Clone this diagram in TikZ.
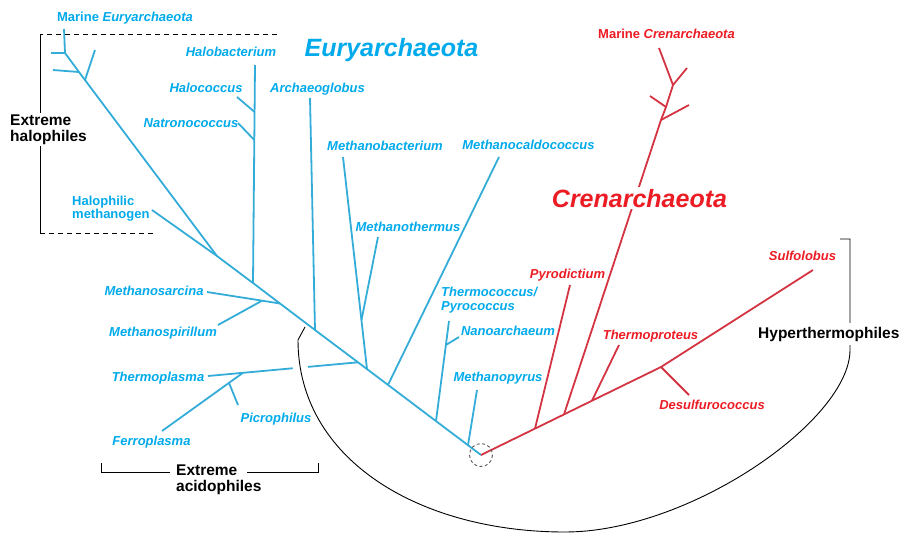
\documentclass[tikz,border=0pt]{standalone}
\usepackage{fontspec}
\setmainfont{Liberation Sans}
\usetikzlibrary{arrows}
\definecolor{euryblue}{RGB}{0,170,235}
\definecolor{eurystroke}{RGB}{52,172,216}
\definecolor{crenred}{RGB}{236,28,36}
\definecolor{crenstroke}{RGB}{212,52,66}
\tikzstyle{eurylabel} = [text=euryblue, font=\fontsize{13}{13.5}\selectfont\bfseries\itshape, inner sep=0pt, anchor=base]
\tikzstyle{crenlabel} = [text=crenred, font=\fontsize{13}{13.5}\selectfont\bfseries\itshape, inner sep=0pt, anchor=base]
\tikzstyle{cladetitle} = [font=\fontsize{25}{25}\selectfont\bfseries\itshape, fill=white, inner sep=2pt, anchor=base]
\tikzstyle{grouplabel} = [font=\fontsize{15.5}{16}\selectfont\bfseries, align=left, inner sep=2pt, anchor=west]
\tikzstyle{eurybranch} = [draw=eurystroke, line width=1.8pt]
\tikzstyle{crenbranch} = [draw=crenstroke, line width=1.8pt]
\tikzstyle{bracket} = [draw=black, line width=0.9pt]
\tikzstyle{halfbracket} = [draw=black, line width=0.9pt, dash pattern=on 5pt off 4pt]

\begin{document}
\begin{tikzpicture}[x=1pt, y=-1pt]
        \useasboundingbox (0,0) rectangle (906,533);

        \coordinate (root) at (481,455);
        \coordinate (eTop) at (65,53);
        \coordinate (eUpA) at (79,72);
        \coordinate (eUpB) at (85,80);
        \coordinate (eBend) at (217,256);
        \coordinate (eHalob) at (253,283);
        \coordinate (eSarcina) at (280,303.5);
        \coordinate (eArchaeo) at (315,330);
        \coordinate (ePlasma) at (358,362.3);
        \coordinate (eBact) at (367,369.1);
        \coordinate (eCaldo) at (388,384.9);
        \coordinate (eThermo) at (436,421.1);
        \coordinate (ePyrus) at (468,445.2);
        \coordinate (eHaloc) at (254.6,112);
        \coordinate (eNatro) at (254.3,140);
        \coordinate (eSpiril) at (262,300.7);
        \coordinate (eFerro) at (243,372.8);
        \coordinate (ePicro) at (229,382.9);
        \coordinate (eMtherm) at (361.5,320);
        \coordinate (eNano) at (445.9,345);

        \coordinate (tMarEury) at (64,29);
        \coordinate (tTopL) at (51,53);
        \coordinate (tUpA) at (53,70);
        \coordinate (tUpB) at (95,50);
        \coordinate (tHalometh) at (152,210);
        \coordinate (tHalob) at (255,65);
        \coordinate (tHaloc) at (237,97);
        \coordinate (tNatro) at (238,123);
        \coordinate (tSarcina) at (207,292);
        \coordinate (tSpiril) at (218,325);
        \coordinate (tArchaeo) at (310,98);
        \coordinate (tPlasma) at (208,376);
        \coordinate (tFerro) at (162,431);
        \coordinate (tPicro) at (238,405);
        \coordinate (tBact) at (343,157);
        \coordinate (tMtherm) at (378,237);
        \coordinate (tCaldo) at (499,157);
        \coordinate (tThermo) at (449,321);
        \coordinate (tNano) at (459,337);
        \coordinate (tPyrus) at (477,390);

        \coordinate (cPyro) at (535,428.6);
        \coordinate (cMain) at (564,414.4);
        \coordinate (cTprot) at (592,400.7);
        \coordinate (cDesulf) at (661,367);
        \coordinate (cMidB) at (661,120);
        \coordinate (cMidA) at (666,107);
        \coordinate (cTop) at (673,85);
        \coordinate (tSulfo) at (813,270);
        \coordinate (tPyro) at (570,285);
        \coordinate (tTprot) at (619,345);
        \coordinate (tDesulf) at (689,395);
        \coordinate (tCrenL) at (659,48);
        \coordinate (tCrenR) at (687,68);
        \coordinate (tMidA) at (650,96);
        \coordinate (tMidB) at (689,105);

        \draw [eurybranch] (root) -- (ePyrus) -- (eThermo) -- (eCaldo) -- (eBact) -- (ePlasma) -- (eArchaeo) -- (eSarcina) -- (eHalob) -- (eBend) -- (eUpB) -- (eUpA) -- (eTop) -- (tMarEury);
        \draw [eurybranch] (eTop) -- (tTopL);
        \draw [eurybranch] (eUpA) -- (tUpA);
        \draw [eurybranch] (eUpB) -- (tUpB);
        \draw [eurybranch] (eBend) -- (tHalometh);
        \draw [eurybranch] (eHalob) -- (tHalob);
        \draw [eurybranch] (eHaloc) -- (tHaloc);
        \draw [eurybranch] (eNatro) -- (tNatro);
        \draw [eurybranch] (eSarcina) -- (tSarcina);
        \draw [eurybranch] (eSpiril) -- (tSpiril);
        \draw [eurybranch] (eArchaeo) -- (tArchaeo);
        \draw [eurybranch] (ePlasma) -- (tPlasma);
        \draw [eurybranch] (eFerro) -- (tFerro);
        \draw [eurybranch] (ePicro) -- (tPicro);
        \draw [eurybranch] (eBact) -- (tBact);
        \draw [eurybranch] (eMtherm) -- (tMtherm);
        \draw [eurybranch] (eCaldo) -- (tCaldo);
        \draw [eurybranch] (eThermo) -- (tThermo);
        \draw [eurybranch] (eNano) -- (tNano);
        \draw [eurybranch] (ePyrus) -- (tPyrus);

        \draw [crenbranch] (root) -- (cPyro) -- (cMain) -- (cTprot) -- (cDesulf) -- (tSulfo);
        \draw [crenbranch] (cPyro) -- (tPyro);
        \draw [crenbranch] (cMain) -- (cMidB) -- (cMidA) -- (cTop) -- (tCrenL);
        \draw [crenbranch] (cTop) -- (tCrenR);
        \draw [crenbranch] (cMidA) -- (tMidA);
        \draw [crenbranch] (cMidB) -- (tMidB);
        \draw [crenbranch] (cTprot) -- (tTprot);
        \draw [crenbranch] (cDesulf) -- (tDesulf);

        \draw [black!65, line width=0.9pt, dash pattern=on 3pt off 2.5pt] (root) circle (11.5);

        \coordinate (hookA) at (305,327);
        \coordinate (arcL) at (298,340);
        \coordinate (arcB) at (565,532);
        \coordinate (arcR) at (850,350);
        \coordinate (hyperTop) at (850,239);
        \coordinate (hyperTick) at (840,239);
        \draw [bracket] (hookA) -- (arcL);
        \draw [bracket, preaction={draw=white, line width=15pt}] (arcL) .. controls (298,460) and (420,532) .. (arcB) .. controls (690,532) and (850,420) .. (arcR) -- (hyperTop) -- (hyperTick);

        \coordinate (haloNE) at (277,34);
        \coordinate (haloNW) at (40,34);
        \coordinate (haloSW) at (40,233);
        \coordinate (haloSE) at (155,233);
        \draw [halfbracket] (haloNE) -- (haloNW);
        \draw [bracket] (haloNW) -- (haloSW);
        \draw [halfbracket] (haloSW) -- (haloSE);

        \coordinate (acidW) at (101,463);
        \coordinate (acidWb) at (101,472);
        \coordinate (acidWe) at (170,472);
        \coordinate (acidEs) at (247,472);
        \coordinate (acidEb) at (318,472);
        \coordinate (acidE) at (318,463);
        \draw [bracket] (acidW) -- (acidWb) -- (acidWe);
        \draw [bracket] (acidEs) -- (acidEb) -- (acidE);

        \node (mareury) [eurylabel] at (125,21.6) {\textup{Marine} Euryarchaeota};
        \node (halobact) [eurylabel] at (231,56.6) {Halobacterium};
        \node (halococ) [eurylabel] at (206,92.6) {Halococcus};
        \node (natrono) [eurylabel] at (191,127.6) {Natronococcus};
        \node (halometh) [eurylabel, anchor=west, align=left, font=\fontsize{13}{13}\selectfont\bfseries] at (72,208.5) {Halophilic\\methanogen};
        \node (archaeo) [eurylabel] at (317.5,92.6) {Archaeoglobus};
        \node (mbact) [eurylabel] at (385,150.6) {Methanobacterium};
        \node (mcaldo) [eurylabel] at (528.5,149.6) {Methanocaldococcus};
        \node (mtherm) [eurylabel] at (408,231.6) {Methanothermus};
        \node (thermococ) [eurylabel, anchor=west, align=left, font=\fontsize{13}{14}\selectfont\bfseries\itshape] at (441,300) {Thermococcus/\\Pyrococcus};
        \node (nanoarch) [eurylabel] at (508,335.6) {Nanoarchaeum};
        \node (mpyrus) [eurylabel] at (498,381.6) {Methanopyrus};
        \node (msarcina) [eurylabel] at (154,295.6) {Methanosarcina};
        \node (mspiril) [eurylabel] at (163,336.6) {Methanospirillum};
        \node (tplasma) [eurylabel] at (158,381.6) {Thermoplasma};
        \node (picro) [eurylabel] at (276,422.6) {Picrophilus};
        \node (ferro) [eurylabel] at (151.5,445.6) {Ferroplasma};

        \node (marcren) [crenlabel] at (666.5,38.6) {\textup{Marine} Crenarchaeota};
        \node (pyrodict) [crenlabel] at (567.5,278.6) {Pyrodictium};
        \node (thermoprot) [crenlabel] at (650.5,339.6) {Thermoproteus};
        \node (desulfo) [crenlabel] at (712,409.6) {Desulfurococcus};
        \node (sulfolob) [crenlabel] at (802.5,260.6) {Sulfolobus};

        \node (euryarch) [cladetitle, text=euryblue] at (391.5,56) {Euryarchaeota};
        \node (crenarch) [cladetitle, text=crenred] at (639.5,207) {Crenarchaeota};

        \node (halophiles) [grouplabel, fill=white] at (8,129.5) {Extreme\\halophiles};
        \node (acidophiles) [grouplabel] at (174,480) {Extreme\\acidophiles};
        \node (hyperthermo) [grouplabel, fill=white, inner ysep=4pt] at (756,334) {Hyperthermophiles};
    \end{tikzpicture}
\end{document}
